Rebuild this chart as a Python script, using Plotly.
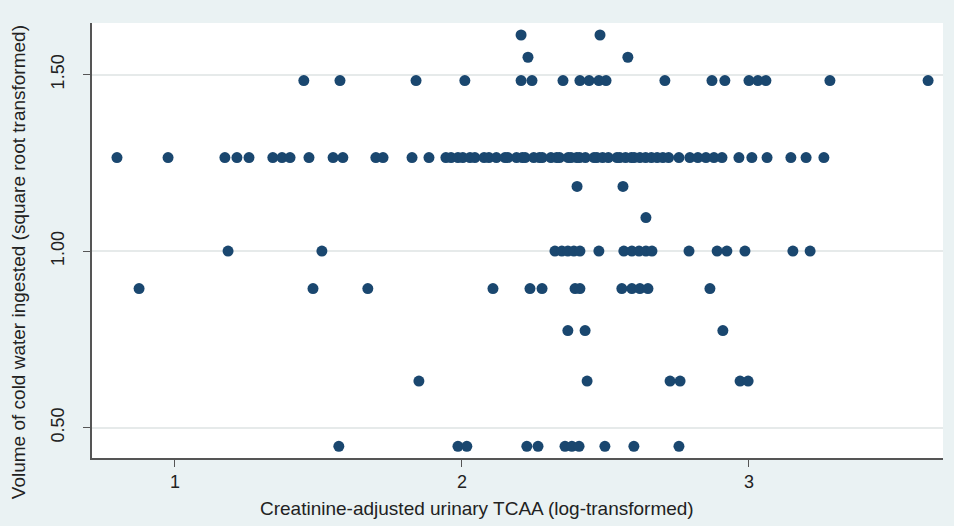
import plotly.graph_objects as go

# Y levels (square-root transformed volume) and the x values observed at each level
y_levels = [1.612, 1.549, 1.483, 1.265, 1.183, 1.095, 1.000, 0.894, 0.775, 0.632, 0.447]

x_1612 = [2.206, 2.481]
x_1549 = [2.230, 2.578]
x_1483 = [1.449, 1.575, 1.840, 2.010, 2.206, 2.244, 2.352, 2.411, 2.443, 2.477,
          2.502, 2.707, 2.871, 2.916, 3.000, 3.031, 3.059, 3.282, 3.624]
x_1265 = [0.798, 0.976, 1.174, 1.216, 1.258, 1.341, 1.373, 1.401, 1.467, 1.551,
          1.585, 1.700, 1.725, 1.826, 1.885, 1.944, 1.962, 1.986, 2.003, 2.028,
          2.045, 2.077, 2.094, 2.12, 2.15, 2.16, 2.19, 2.21, 2.22, 2.25, 2.27,
          2.28, 2.31, 2.33, 2.34, 2.37, 2.38, 2.40, 2.41, 2.43, 2.46, 2.47, 2.49,
          2.51, 2.54, 2.55, 2.57, 2.59, 2.60, 2.62, 2.64, 2.66, 2.68, 2.70, 2.72,
          2.756, 2.794, 2.822, 2.850, 2.878, 2.906, 2.965, 3.010, 3.063, 3.146,
          3.199, 3.261]
x_1183 = [2.401, 2.561]
x_1095 = [2.641]
x_1000 = [1.185, 1.512, 2.324, 2.348, 2.369, 2.390, 2.411, 2.477, 2.564, 2.592,
          2.617, 2.641, 2.662, 2.791, 2.889, 2.923, 2.986, 3.153, 3.213]
x_0894 = [0.875, 1.481, 1.672, 2.108, 2.237, 2.279, 2.394, 2.411, 2.557, 2.592,
          2.620, 2.648, 2.864]
x_0775 = [2.369, 2.429, 2.909]
x_0632 = [1.850, 2.436, 2.725, 2.760, 2.969, 2.997]
x_0447 = [1.571, 1.986, 2.017, 2.226, 2.265, 2.359, 2.383, 2.408, 2.498, 2.599, 2.756]

x_rows = [x_1612, x_1549, x_1483, x_1265, x_1183, x_1095, x_1000, x_0894,
          x_0775, x_0632, x_0447]

y_ticks = [0.5, 1.0, 1.5]
y_tick_labels = ["0.50", "1.00", "1.50"]
x_ticks = [1, 2, 3]
x_tick_labels = ["1", "2", "3"]

x_title = "Creatinine-adjusted urinary TCAA (log-transformed)"
y_title = "Volume of cold water ingested (square root transformed)"

xs, ys = [], []
for lvl, row in zip(y_levels, x_rows):
    for v in row:
        xs.append(v)
        ys.append(lvl)

FONT = "Liberation Sans, Arial, sans-serif"
BG = "#eaf2f3"

fig = go.Figure()
fig.add_trace(go.Scatter(
    x=xs, y=ys, mode="markers",
    marker=dict(symbol="circle", size=11, color="#1a476f", line=dict(width=0)),
    hoverinfo="x+y", showlegend=False,
))

fig.update_layout(
    width=954, height=526,
    margin=dict(l=92, r=11, t=23, b=68, autoexpand=False),
    paper_bgcolor=BG,
    plot_bgcolor="#ffffff",
    font=dict(family=FONT, size=18, color="#222222"),
    xaxis=dict(
        range=[0.711, 3.676],
        tickmode="array", tickvals=x_ticks, ticktext=x_tick_labels,
        ticks="outside", ticklen=7, tickcolor="#555555", tickwidth=1,
        showgrid=False, zeroline=False,
        showline=True, linecolor="#555555", linewidth=1.5,
        tickfont=dict(size=18, color="#222222"),
        automargin=False,
    ),
    yaxis=dict(
        range=[0.414, 1.646],
        tickmode="array", tickvals=y_ticks, ticktext=y_tick_labels,
        ticks="outside", ticklen=7, tickcolor="#555555", tickwidth=1,
        tickangle=-90, ticklabelstandoff=12,
        showgrid=True, gridcolor="#e6eaea", gridwidth=1.5,
        zeroline=False,
        showline=True, linecolor="#555555", linewidth=1.5,
        tickfont=dict(size=18, color="#222222"),
        automargin=False,
    ),
    annotations=[
        dict(text=x_title, xref="paper", yref="paper", x=0.452, y=-0.115,
             xanchor="center", yanchor="middle", showarrow=False,
             font=dict(size=19, color="#222222")),
        dict(text=y_title, xref="paper", yref="paper", x=-0.087, y=0.45,
             xanchor="center", yanchor="middle", showarrow=False, textangle=-90,
             font=dict(size=19, color="#222222")),
    ],
)

fig.write_html(
    "out.html",
    config={"displayModeBar": False},
    post_script="document.body.style.margin='0';document.body.style.background='" + BG + "';",
)
